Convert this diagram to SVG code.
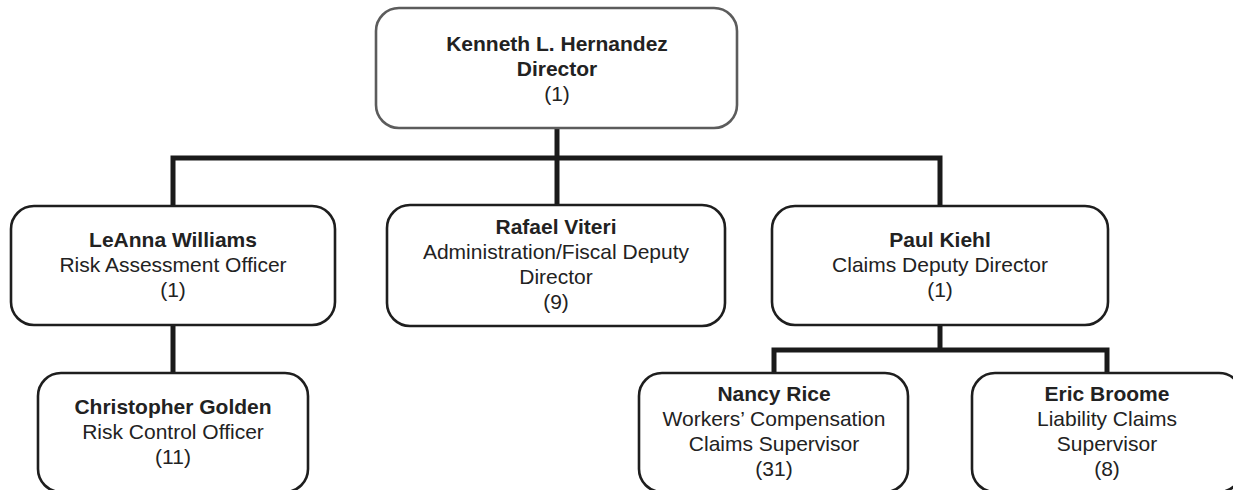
<svg xmlns="http://www.w3.org/2000/svg" width="1233" height="490" viewBox="0 0 1233 490">
  <style>
    .box { fill: #ffffff; stroke: #1e1e1e; stroke-width: 2.6; }
    .top { stroke: #5c5c5c; }
    .conn { fill: none; stroke: #1a1a1a; stroke-width: 5; stroke-linejoin: miter; stroke-linecap: butt; }
    text { font-family: "Liberation Sans", Arial, sans-serif; font-size: 21px; fill: #222222; text-anchor: middle; }
    .b { font-weight: bold; }
  </style>
  <rect width="1233" height="490" fill="#ffffff"/>
  <g id="connectors">
    <path class="conn" d="M557,128 V158"/>
    <path class="conn" d="M173,207 V158 H940 V207"/>
    <path class="conn" d="M557,158 V206"/>
    <path class="conn" d="M173,324 V374"/>
    <path class="conn" d="M940,324 V350"/>
    <path class="conn" d="M774,374 V350 H1107 V374"/>
  </g>
  <g id="kenneth">
    <rect class="box top" x="376" y="8" width="361" height="120" rx="23"/>
    <text x="557" y="51" class="b">Kenneth L. Hernandez</text>
    <text x="557" y="76" class="b">Director</text>
    <text x="557" y="101">(1)</text>
  </g>
  <g id="leanna">
    <rect class="box" x="11" y="206" width="324" height="119" rx="23"/>
    <text x="173" y="247" class="b">LeAnna Williams</text>
    <text x="173" y="272">Risk Assessment Officer</text>
    <text x="173" y="297">(1)</text>
  </g>
  <g id="rafael">
    <rect class="box" x="387" y="205" width="338" height="121" rx="23"/>
    <text x="556" y="234" class="b">Rafael Viteri</text>
    <text x="556" y="259">Administration/Fiscal Deputy</text>
    <text x="556" y="284">Director</text>
    <text x="556" y="309">(9)</text>
  </g>
  <g id="paul">
    <rect class="box" x="772" y="206" width="336" height="119" rx="23"/>
    <text x="940" y="247" class="b">Paul Kiehl</text>
    <text x="940" y="272">Claims Deputy Director</text>
    <text x="940" y="297">(1)</text>
  </g>
  <g id="christopher">
    <rect class="box" x="38" y="373" width="270" height="119" rx="23"/>
    <text x="173" y="414" class="b">Christopher Golden</text>
    <text x="173" y="439">Risk Control Officer</text>
    <text x="173" y="464">(11)</text>
  </g>
  <g id="nancy">
    <rect class="box" x="639" y="373" width="269" height="119" rx="23"/>
    <text x="774" y="401" class="b">Nancy Rice</text>
    <text x="774" y="426">Workers’ Compensation</text>
    <text x="774" y="451">Claims Supervisor</text>
    <text x="774" y="476">(31)</text>
  </g>
  <g id="eric">
    <rect class="box" x="972" y="373" width="270" height="119" rx="23"/>
    <text x="1107" y="401" class="b">Eric Broome</text>
    <text x="1107" y="426">Liability Claims</text>
    <text x="1107" y="451">Supervisor</text>
    <text x="1107" y="476">(8)</text>
  </g>
</svg>
